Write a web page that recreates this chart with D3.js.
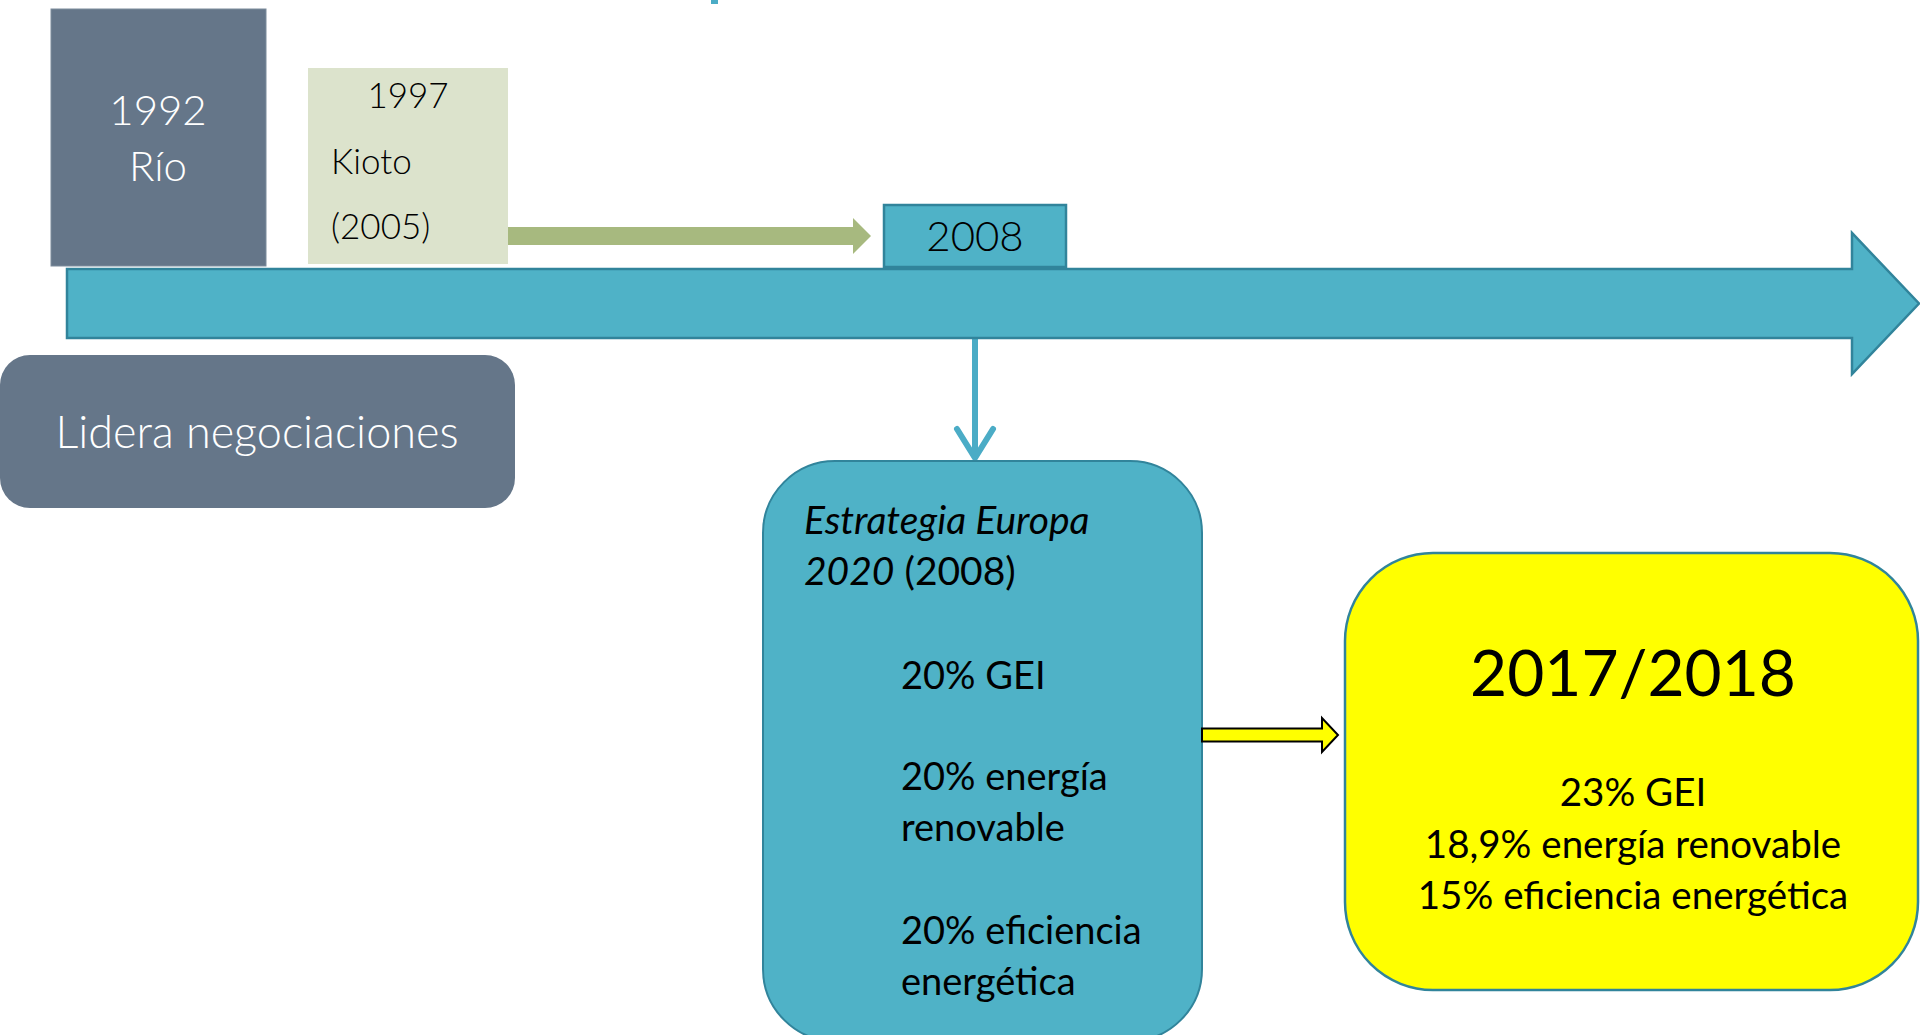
<!DOCTYPE html>
<html>
<head>
<meta charset="utf-8">
<script src="https://cdn.jsdelivr.net/npm/d3@7"></script>
<style>
  html, body { margin: 0; padding: 0; background: #fff; }
  svg { display: block; }
  text { font-family: Lato, 'Open Sans', sans-serif; }
</style>
</head>
<body>
<svg id="chart" width="1920" height="1035"></svg>
<script>
// Texts of the diagram
var rioLines = ['1992', 'Río'];
var kiotoLines = ['1997', 'Kioto', '(2005)'];
var timelineYear = '2008';
var leadLabel = 'Lidera negociaciones';
var europaTitle = [['Estrategia Europa', ''], ['2020', ' (2008)']]; // [italic, normal]
var europaTargets = [['20% GEI'], ['20% energía', 'renovable'], ['20% eficiencia', 'energética']];
var newPeriod = '2017/2018';
var newTargets = ['23% GEI', '18,9% energía renovable', '15% eficiencia energética'];

var TEAL = '#4fb2c7';
var TEAL_DARK = '#31849b';
var SLATE = '#657689';

var svg = d3.select('#chart');
svg.append('rect').attr('width', 1920).attr('height', 1035).attr('fill', '#fff');

// Block arrow pointing right
function blockArrow(x0, x1, cy, shaftH, headH, headL) {
    var p = d3.path();
    p.moveTo(x0, cy - shaftH / 2);
    p.lineTo(x1 - headL, cy - shaftH / 2);
    p.lineTo(x1 - headL, cy - headH / 2);
    p.lineTo(x1, cy);
    p.lineTo(x1 - headL, cy + headH / 2);
    p.lineTo(x1 - headL, cy + shaftH / 2);
    p.lineTo(x0, cy + shaftH / 2);
    p.closePath();
    return p.toString();
}

// Cut-off title remnant at the top
svg.append('rect')
    .attr('x', 711).attr('y', 0).attr('width', 7).attr('height', 4)
    .attr('fill', '#4bacc6');

// Connector from 2008 down to the Europa box (behind the timeline)
svg.append('line')
    .attr('x1', 975).attr('y1', 262).attr('x2', 975).attr('y2', 457)
    .attr('stroke', '#4bacc6').attr('stroke-width', 6);
svg.append('path')
    .attr('d', d3.line()([[957, 429], [975, 458], [993, 429]]))
    .attr('fill', 'none')
    .attr('stroke', '#4bacc6').attr('stroke-width', 6)
    .attr('stroke-linecap', 'round').attr('stroke-linejoin', 'round');

// Main timeline arrow
svg.append('path')
    .attr('d', blockArrow(67, 1919, 303.5, 69, 141, 67))
    .attr('fill', TEAL)
    .attr('stroke', TEAL_DARK).attr('stroke-width', 2.5);

// 1992 Rio box
svg.append('rect')
    .attr('x', 51).attr('y', 9).attr('width', 215).attr('height', 257)
    .attr('fill', SLATE).attr('stroke', '#7d8c9c').attr('stroke-width', 1);
svg.append('g').selectAll('text')
    .data(rioLines)
    .enter()
        .append('text')
        .attr('x', 158)
        .attr('y', function(d, i) { return 125 + i * 56; })
        .attr('text-anchor', 'middle')
        .attr('font-size', 42)
        .attr('font-weight', 300)
        .attr('fill', '#fff')
        .text(function(d) { return d; });

// 1997 Kioto box
svg.append('rect')
    .attr('x', 308).attr('y', 68).attr('width', 200).attr('height', 196)
    .attr('fill', '#dce3cc');
svg.append('g').selectAll('text')
    .data(kiotoLines)
    .enter()
        .append('text')
        .attr('x', function(d, i) { return i === 0 ? 408 : 331; })
        .attr('y', function(d, i) { return 108 + i * 65.5; })
        .attr('text-anchor', function(d, i) { return i === 0 ? 'middle' : 'start'; })
        .attr('font-size', 35)
        .attr('font-weight', 300)
        .attr('fill', '#000')
        .text(function(d) { return d; });

// Kioto -> 2008 arrow
svg.append('path')
    .attr('d', blockArrow(508, 871, 236, 18, 36, 18))
    .attr('fill', '#a7b97f');

// 2008 box
svg.append('rect')
    .attr('x', 884).attr('y', 205).attr('width', 182).attr('height', 62)
    .attr('fill', TEAL)
    .attr('stroke', TEAL_DARK).attr('stroke-width', 2.5);
svg.append('text')
    .attr('x', 975).attr('y', 251)
    .attr('text-anchor', 'middle')
    .attr('font-size', 42)
    .attr('font-weight', 300)
    .text(timelineYear);

// Lidera negociaciones
svg.append('rect')
    .attr('x', 0).attr('y', 355).attr('width', 515).attr('height', 153)
    .attr('rx', 30)
    .attr('fill', SLATE);
svg.append('text')
    .attr('x', 257).attr('y', 448)
    .attr('text-anchor', 'middle')
    .attr('font-size', 45)
    .attr('font-weight', 300)
    .attr('fill', '#fff')
    .text(leadLabel);

// Estrategia Europa 2020 box
svg.append('rect')
    .attr('x', 763).attr('y', 461).attr('width', 439).attr('height', 580)
    .attr('rx', 72)
    .attr('fill', TEAL)
    .attr('stroke', TEAL_DARK).attr('stroke-width', 2);
var title = svg.append('g').selectAll('text')
    .data(europaTitle)
    .enter()
        .append('text')
        .attr('x', 804)
        .attr('y', function(d, i) { return 534 + i * 51; })
        .attr('font-size', 39);
title.append('tspan')
    .attr('font-style', 'italic')
    .text(function(d) { return d[0]; });
title.append('tspan')
    .text(function(d) { return d[1]; });

var targetRows = [];
var baseY = [689, 790, 944];
europaTargets.forEach(function(lines, i) {
    lines.forEach(function(l, j) {
        targetRows.push({ text: l, y: baseY[i] + j * 51 });
    });
});
svg.append('g').selectAll('text')
    .data(targetRows)
    .enter()
        .append('text')
        .attr('x', 901)
        .attr('y', function(d) { return d.y; })
        .attr('font-size', 38)
        .text(function(d) { return d.text; });

// Yellow arrow
svg.append('path')
    .attr('d', blockArrow(1202, 1338, 735, 13, 34, 16))
    .attr('fill', '#ffff00')
    .attr('stroke', '#000').attr('stroke-width', 2);

// 2017/2018 box
svg.append('rect')
    .attr('x', 1345).attr('y', 553).attr('width', 573).attr('height', 437)
    .attr('rx', 88)
    .attr('fill', '#ffff00')
    .attr('stroke', TEAL_DARK).attr('stroke-width', 2.5);
svg.append('text')
    .attr('x', 1633).attr('y', 696)
    .attr('text-anchor', 'middle')
    .attr('font-size', 64)
    .text(newPeriod);
svg.append('g').selectAll('text')
    .data(newTargets)
    .enter()
        .append('text')
        .attr('x', 1633)
        .attr('y', function(d, i) { return 806 + i * 51.5; })
        .attr('text-anchor', 'middle')
        .attr('font-size', 38.5)
        .text(function(d) { return d; });
</script>
</body>
</html>
